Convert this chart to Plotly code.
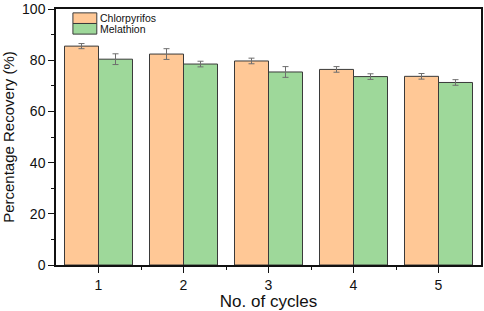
import plotly.graph_objects as go

cycles = [1, 2, 3, 4, 5]
chlorpyrifos = [85.5, 82.4, 79.7, 76.4, 73.7]
chlorpyrifos_err = [1.0, 2.1, 1.1, 1.1, 1.1]
melathion = [80.4, 78.5, 75.4, 73.6, 71.3]
melathion_err = [2.1, 1.1, 2.1, 1.1, 1.1]
series_names = ["Chlorpyrifos", "Melathion"]

orange = "#FFC896"
green = "#9ED89A"
edge = "#3a3a3a"
errc = "#6e6e6e"

fig = go.Figure()
fig.add_trace(go.Bar(
    x=cycles, y=chlorpyrifos, name=series_names[0], offsetgroup="a",
    marker=dict(color=orange, line=dict(color=edge, width=1)),
    error_y=dict(type="data", array=chlorpyrifos_err, color=errc, thickness=1, width=3),
    showlegend=False,
))
fig.add_trace(go.Bar(
    x=cycles, y=melathion, name=series_names[1], offsetgroup="b",
    marker=dict(color=green, line=dict(color=edge, width=1)),
    error_y=dict(type="data", array=melathion_err, color=errc, thickness=1, width=3),
    showlegend=False,
))

# custom legend (wide swatches like the original)
W, H = 484, 311
ml, mr, mt, mb = 56, 1, 5, 41
pw, ph = W - ml - mr, H - mt - mb
def px(x): return (x - ml) / pw
def py(y): return 1 - (y - mt) / ph

shapes = []
annotations = []
for i, (name, col) in enumerate(zip(series_names, [orange, green])):
    y0, y1 = 9 + i * 11, 20 + i * 11
    shapes.append(dict(type="rect", xref="paper", yref="paper",
                       x0=px(73), x1=px(97), y0=py(y1), y1=py(y0),
                       fillcolor=col, line=dict(color=edge, width=1)))
    annotations.append(dict(xref="paper", yref="paper", x=px(99), y=py((y0 + y1) / 2),
                            text=name, showarrow=False, xanchor="left", yanchor="middle",
                            borderpad=0,
                            font=dict(size=10.5, color="#111")))

fig.update_layout(
    width=W, height=H,
    margin=dict(l=ml, r=mr, t=mt, b=mb),
    paper_bgcolor="white", plot_bgcolor="white",
    barmode="group", bargap=0.2, bargroupgap=0,
    font=dict(family="Liberation Sans, Arial, sans-serif", color="#111"),
    shapes=shapes, annotations=annotations,
    xaxis=dict(
        range=[0.5, 5.5], tickvals=cycles, ticktext=[str(c) for c in cycles],
        ticks="outside", ticklen=6, tickwidth=1, tickcolor="#111",
        minor=dict(tickvals=[1.5, 2.5, 3.5, 4.5], ticks="outside", ticklen=3, tickcolor="#111"),
        showline=True, linecolor="#111", linewidth=1.5, mirror=True,
        showgrid=False, zeroline=False, ticklabeloverflow="allow",
        tickfont=dict(size=14),
        title=dict(text="No. of cycles", font=dict(size=17), standoff=6),
    ),
    yaxis=dict(
        range=[0, 100], tickvals=[0, 20, 40, 60, 80, 100],
        ticks="outside", ticklen=6, tickwidth=1, tickcolor="#111",
        minor=dict(tickvals=[10, 30, 50, 70, 90], ticks="outside", ticklen=3, tickcolor="#111"),
        showline=True, linecolor="#111", linewidth=1.5, mirror=True,
        showgrid=False, zeroline=False, ticklabeloverflow="allow",
        tickfont=dict(size=14),
        title=dict(text="Percentage Recovery (%)", font=dict(size=15), standoff=9),
    ),
)

fig.write_html("out.html", config={"displayModeBar": False},
               post_script="document.body.style.margin='0';document.body.style.overflow='hidden';")
